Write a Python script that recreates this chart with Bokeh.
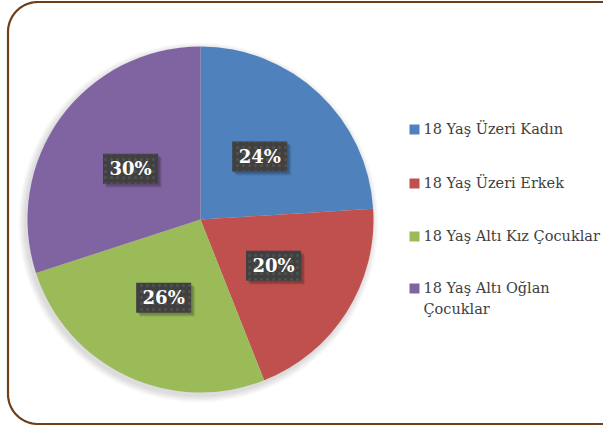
import numpy as np
from bokeh.plotting import figure
from bokeh.models import Range1d, ColumnDataSource
from bokeh.core.properties import value
from bokeh.embed import file_html
from bokeh.resources import INLINE

# ---- data ----
categories = ["18 Yaş Üzeri Kadın", "18 Yaş Üzeri Erkek",
              "18 Yaş Altı Kız Çocuklar", "18 Yaş Altı Oğlan Çocuklar"]
legend_lines = [["18 Yaş Üzeri Kadın"], ["18 Yaş Üzeri Erkek"],
                ["18 Yaş Altı Kız Çocuklar"], ["18 Yaş Altı Oğlan", "Çocuklar"]]
shares = [24, 20, 26, 30]
colors = ["#4F81BD", "#C0504D", "#9BBB59", "#8064A2"]

# ---- layout (reference-pixel coordinates) ----
W, H = 603, 425
def Y(py):
    return H - py

p = figure(width=W, height=H, x_range=Range1d(0, W), y_range=Range1d(0, H),
           output_backend="svg", toolbar_location=None, min_border=0,
           x_axis_type=None, y_axis_type=None)
p.grid.visible = False
p.outline_line_color = None
p.background_fill_color = "white"
p.border_fill_color = "white"

# border (rounded rectangle)
def rounded_rect(x0, x1, y0, y1, r, n=24):
    xs, ys = [], []
    corners = [(x1 - r, y1 - r, 0), (x0 + r, y1 - r, 90), (x0 + r, y0 + r, 180), (x1 - r, y0 + r, 270)]
    for cx, cy, a0 in corners:
        t = np.radians(np.linspace(a0, a0 + 90, n))
        xs += list(cx + r * np.cos(t)); ys += list(cy + r * np.sin(t))
    return xs, ys

bx, by = rounded_rect(7.5, 640, Y(423.5), Y(1.5), 30)
p.patch(bx, by, fill_color="white", line_color="#6B3F1B", line_width=2.2)

# pie
cx, cy, r = 200, Y(219), 173
fr = np.array(shares, dtype=float) / sum(shares)
cum_end = np.cumsum(fr)
cum_start = cum_end - fr
start = np.pi / 2 - 2 * np.pi * cum_end
end = np.pi / 2 - 2 * np.pi * cum_start
mid = (start + end) / 2

# soft shadow
for k in range(1, 8):
    p.circle(x=[cx - 2], y=[cy - 3], radius=r + k, fill_color="black",
             fill_alpha=0.018, line_color=None)

src = ColumnDataSource(dict(start=start, end=end, color=colors, cat=categories))
p.wedge(x=cx, y=cy, radius=r, start_angle="start", end_angle="end",
        fill_color="color", line_color=None, source=src)

# data labels
lx = cx + 0.5 * r * np.cos(mid)
ly = cy + 0.5 * r * np.sin(mid)
labels = [f"{s}%" for s in shares]
bw, bh = 55, 30
for k, a in [(4, 0.08), (3, 0.1), (2, 0.12)]:
    p.rect(x=lx + k, y=ly - k, width=bw, height=bh, fill_color="black",
           fill_alpha=a, line_color=None)
p.rect(x=lx, y=ly, width=bw, height=bh, fill_color="#404040", line_color=None,
       hatch_pattern="dot", hatch_color="#515151", hatch_scale=6, hatch_weight=2)
p.text(x=lx, y=ly, text=labels, text_color="white", text_font=value("DejaVu Serif"),
       text_font_style="bold", text_font_size="18px", text_align="center",
       text_baseline="middle")

# legend
leg_y = [128, 182, 235, 287]
p.rect(x=[414] * 4, y=[Y(v + 1) for v in leg_y], width=10, height=10,
       fill_color=colors, line_color=None)
tx, ty, tt = [], [], []
for yy, lines in zip(leg_y, legend_lines):
    for i, ln in enumerate(lines):
        tx.append(423); ty.append(Y(yy + 21 * i)); tt.append(ln)
p.text(x=tx, y=ty, text=tt, text_color="#404040", text_font=value("DejaVu Serif"),
       text_font_size="14.5px", text_align="left", text_baseline="middle")

open("out.html", "w").write(file_html(p, INLINE))
